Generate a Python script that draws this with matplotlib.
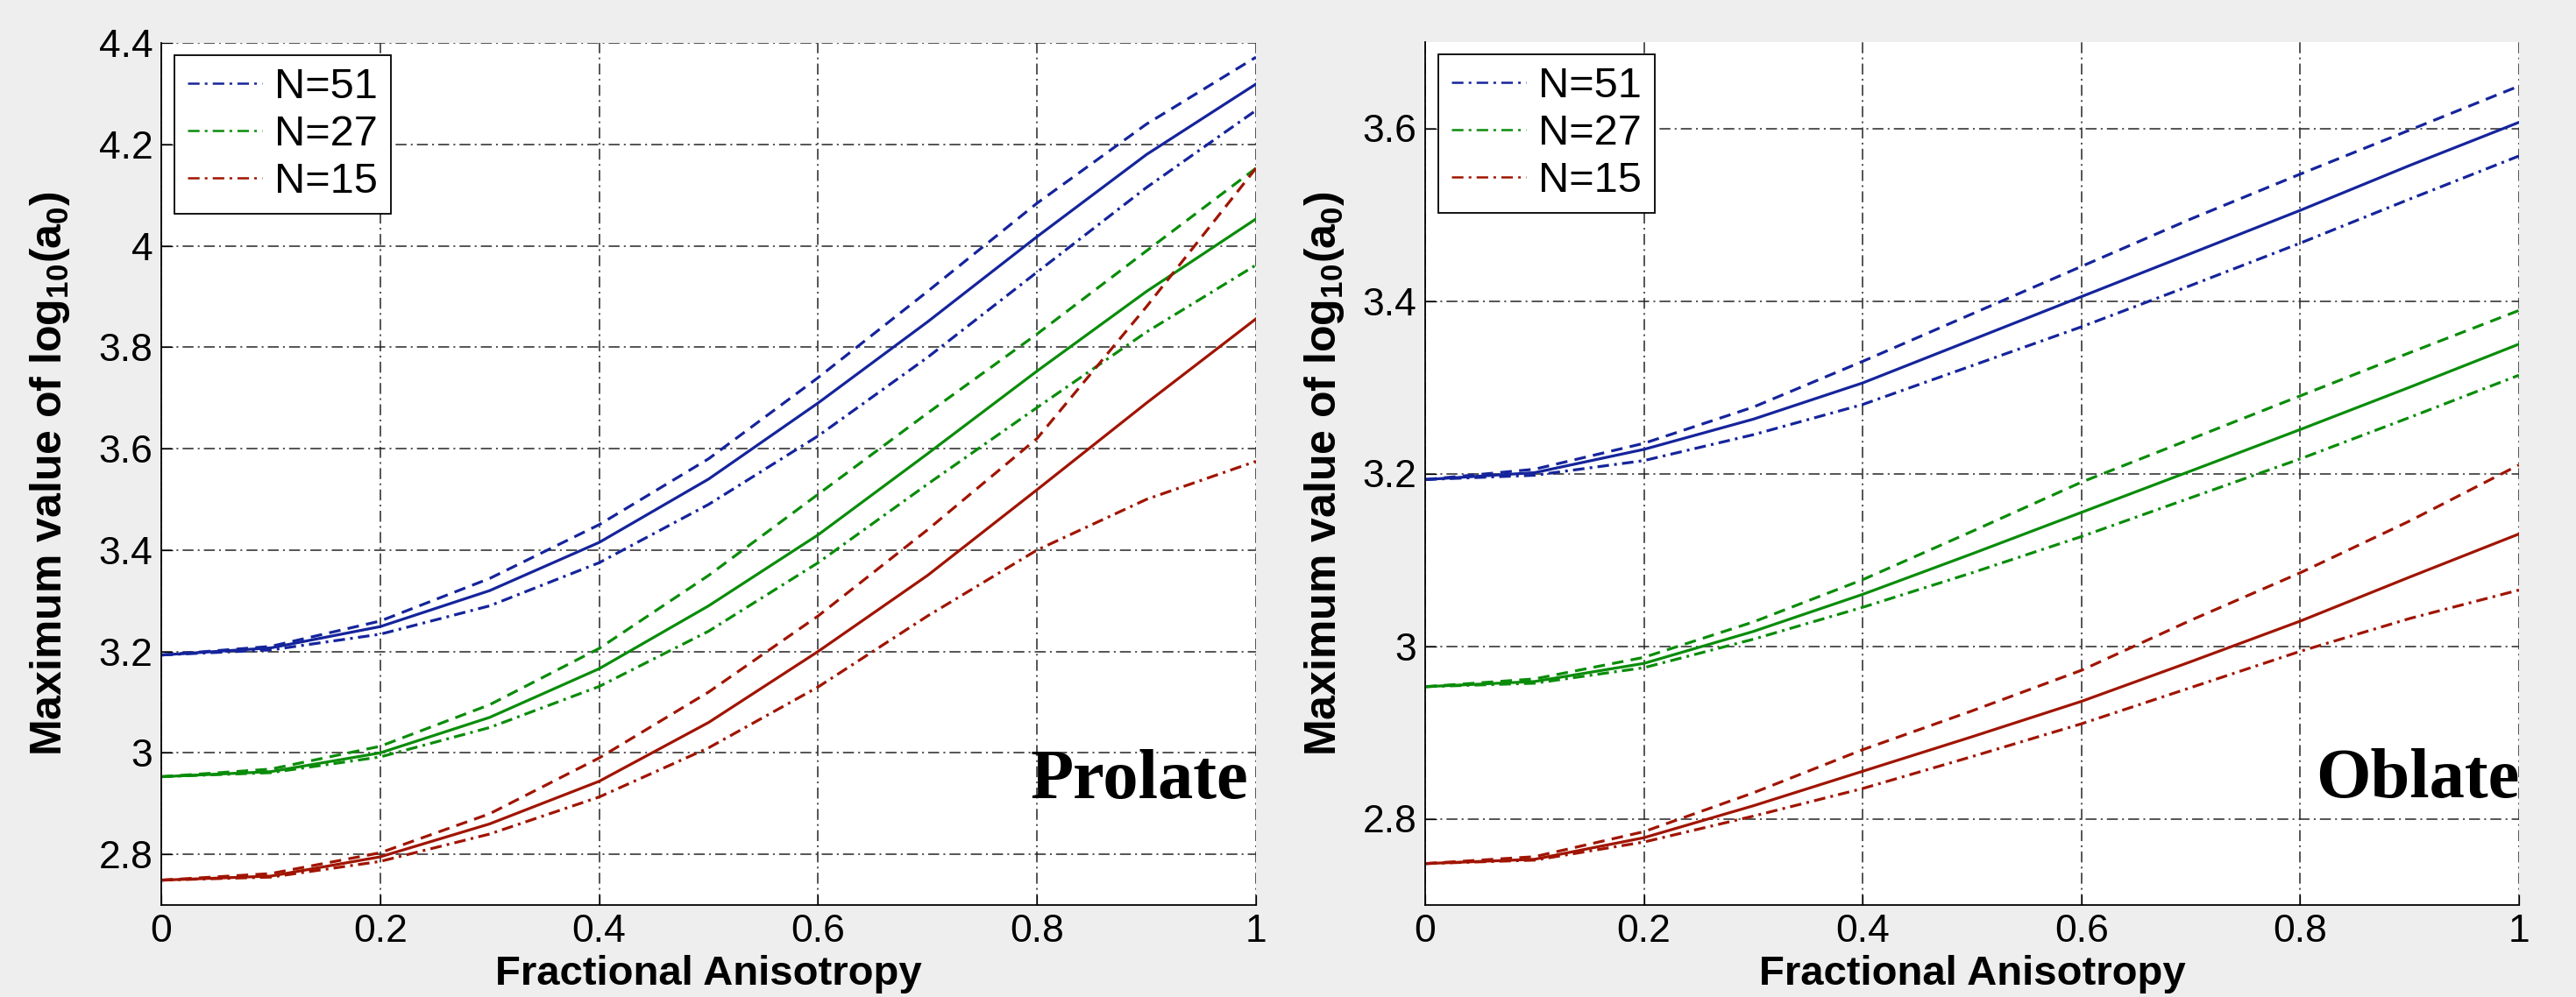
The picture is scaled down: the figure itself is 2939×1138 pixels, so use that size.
import numpy as np
import matplotlib
matplotlib.use("Agg")
import matplotlib.pyplot as plt

plt.rcParams["font.family"] = ["Liberation Sans", "DejaVu Sans"]
plt.rcParams["lines.scale_dashes"] = False
plt.rcParams["mathtext.fontset"] = "custom"
plt.rcParams["mathtext.bf"] = "Liberation Sans:bold"
plt.rcParams["mathtext.rm"] = "Liberation Sans:bold"
plt.rcParams["mathtext.default"] = "bf"

# Fractional anisotropy samples
fa = [0.0, 0.1, 0.2, 0.3, 0.4, 0.5, 0.6, 0.7, 0.8, 0.9, 1.0]

# Prolate panel: max log10(a0), three estimates per N (dashed / solid / dash-dot)
pro_51_dash = [3.193, 3.21, 3.26, 3.344, 3.45, 3.58, 3.74, 3.91, 4.084, 4.24, 4.372]
pro_51_solid = [3.193, 3.207, 3.249, 3.32, 3.415, 3.54, 3.69, 3.85, 4.018, 4.18, 4.319]
pro_51_dot = [3.193, 3.203, 3.234, 3.29, 3.375, 3.49, 3.625, 3.78, 3.948, 4.115, 4.267]
pro_27_dash = [2.953, 2.968, 3.013, 3.095, 3.206, 3.35, 3.51, 3.67, 3.826, 3.99, 4.153]
pro_27_solid = [2.953, 2.963, 3.0, 3.07, 3.166, 3.29, 3.43, 3.59, 3.753, 3.91, 4.053]
pro_27_dot = [2.953, 2.961, 2.992, 3.05, 3.131, 3.24, 3.375, 3.53, 3.681, 3.83, 3.962]
pro_15_dash = [2.749, 2.762, 2.803, 2.88, 2.99, 3.12, 3.27, 3.44, 3.62, 3.88, 4.153]
pro_15_solid = [2.749, 2.757, 2.795, 2.86, 2.944, 3.06, 3.20, 3.35, 3.519, 3.69, 3.856]
pro_15_dot = [2.749, 2.755, 2.786, 2.84, 2.913, 3.01, 3.13, 3.27, 3.40, 3.50, 3.575]

# Oblate panel
obl_51_dash = [3.193, 3.205, 3.235, 3.277, 3.33, 3.385, 3.44, 3.495, 3.547, 3.598, 3.649]
obl_51_solid = [3.193, 3.201, 3.228, 3.263, 3.305, 3.355, 3.405, 3.455, 3.505, 3.557, 3.607]
obl_51_dot = [3.193, 3.198, 3.215, 3.245, 3.28, 3.325, 3.37, 3.418, 3.467, 3.518, 3.568]
obl_27_dash = [2.953, 2.962, 2.987, 3.028, 3.077, 3.133, 3.19, 3.24, 3.29, 3.34, 3.389]
obl_27_solid = [2.953, 2.959, 2.98, 3.017, 3.06, 3.107, 3.155, 3.203, 3.251, 3.30, 3.35]
obl_27_dot = [2.953, 2.957, 2.975, 3.008, 3.045, 3.085, 3.127, 3.172, 3.217, 3.265, 3.314]
obl_15_dash = [2.748, 2.756, 2.785, 2.83, 2.88, 2.925, 2.972, 3.03, 3.085, 3.145, 3.21]
obl_15_solid = [2.748, 2.753, 2.778, 2.815, 2.855, 2.895, 2.936, 2.982, 3.029, 3.08, 3.13]
obl_15_dot = [2.748, 2.752, 2.773, 2.803, 2.835, 2.872, 2.91, 2.952, 2.994, 3.032, 3.065]

labels = ["N=51", "N=27", "N=15"]
colors = ["#15249b", "#0a8c0a", "#a01400"]

x_ticks = [0, 0.2, 0.4, 0.6, 0.8, 1.0]
x_ticklabels = ["0", "0.2", "0.4", "0.6", "0.8", "1"]
pro_yticks = [2.8, 3.0, 3.2, 3.4, 3.6, 3.8, 4.0, 4.2, 4.4]
pro_yticklabels = ["2.8", "3", "3.2", "3.4", "3.6", "3.8", "4", "4.2", "4.4"]
obl_yticks = [2.8, 3.0, 3.2, 3.4, 3.6]
obl_yticklabels = ["2.8", "3", "3.2", "3.4", "3.6"]

DASHED = (0, (9.5, 6))
DASHDOT = (0, (9.5, 4.3, 2.2, 4.3))
GRID = (0, (9, 3.5, 1.5, 3.5))

W, H = 2939, 1138
fig = plt.figure(figsize=(W / 100, H / 100), dpi=100, facecolor="#eeeeee")
ax_l = fig.add_axes([184 / W, 1 - 1033 / H, 1249 / W, 984 / H])
ax_r = fig.add_axes([1626 / W, 1 - 1033 / H, 1248 / W, 985 / H])


def draw(ax, series, yticks, yticklabels, ylim, name, name_xy, ylab_x):
    for (dash, solid, dot), c, lab in zip(series, colors, labels):
        ax.plot(fa, dot, color=c, lw=2.3, ls=DASHDOT, label=lab)
        ax.plot(fa, solid, color=c, lw=2.3, ls="-")
        ax.plot(fa, dash, color=c, lw=2.3, ls=DASHED)
    ax.set_xlim(0, 1)
    ax.set_ylim(*ylim)
    ax.set_xticks(x_ticks)
    ax.set_xticklabels(x_ticklabels)
    ax.set_yticks(yticks)
    ax.set_yticklabels(yticklabels)
    ax.tick_params(direction="in", length=9, width=0.9, labelsize=32, pad=7,
                   top=False, right=False)
    ax.grid(True, color="#262626", lw=1.1, ls=GRID)
    ax.set_axisbelow(True)
    for s in ["top", "right"]:
        ax.spines[s].set_visible(False)
    for s in ["left", "bottom"]:
        ax.spines[s].set_linewidth(1.3)
    ax.set_xlabel("Fractional Anisotropy", fontsize=34, fontweight="bold")
    ax.set_ylabel(r"Maximum value of log$_{10}$(a$_{0}$)",
                  fontsize=36, fontweight="bold")
    ax.xaxis.set_label_coords(0.5, -0.058)
    ax.yaxis.set_label_coords(ylab_x, 0.5)
    ax.text(name_xy[0], name_xy[1], name, ha="right", va="baseline",
            fontsize=58, fontweight="bold", family=["Liberation Serif", "DejaVu Serif"],
            clip_on=False)
    leg = ax.legend(loc="upper left", bbox_to_anchor=(0.012, 0.986), fontsize=35,
                    frameon=True, fancybox=False, edgecolor="black", framealpha=1,
                    handlelength=1.75, handletextpad=0.3, borderpad=0.3,
                    labelspacing=0.18, borderaxespad=0)
    leg.get_frame().set_linewidth(1.3)
    for ln in leg.get_lines():
        ln.set_linewidth(1.8)


draw(ax_l,
     [(pro_51_dash, pro_51_solid, pro_51_dot),
      (pro_27_dash, pro_27_solid, pro_27_dot),
      (pro_15_dash, pro_15_solid, pro_15_dot)],
     pro_yticks, pro_yticklabels, (2.7, 4.4), "Prolate", (0.993, 2.911), -0.082)
draw(ax_r,
     [(obl_51_dash, obl_51_solid, obl_51_dot),
      (obl_27_dash, obl_27_solid, obl_27_dot),
      (obl_15_dash, obl_15_solid, obl_15_dot)],
     obl_yticks, obl_yticklabels, (2.7, 3.7), "Oblate", (1.0, 2.825), -0.072)

fig.savefig("out.png", dpi=100, facecolor=fig.get_facecolor())
